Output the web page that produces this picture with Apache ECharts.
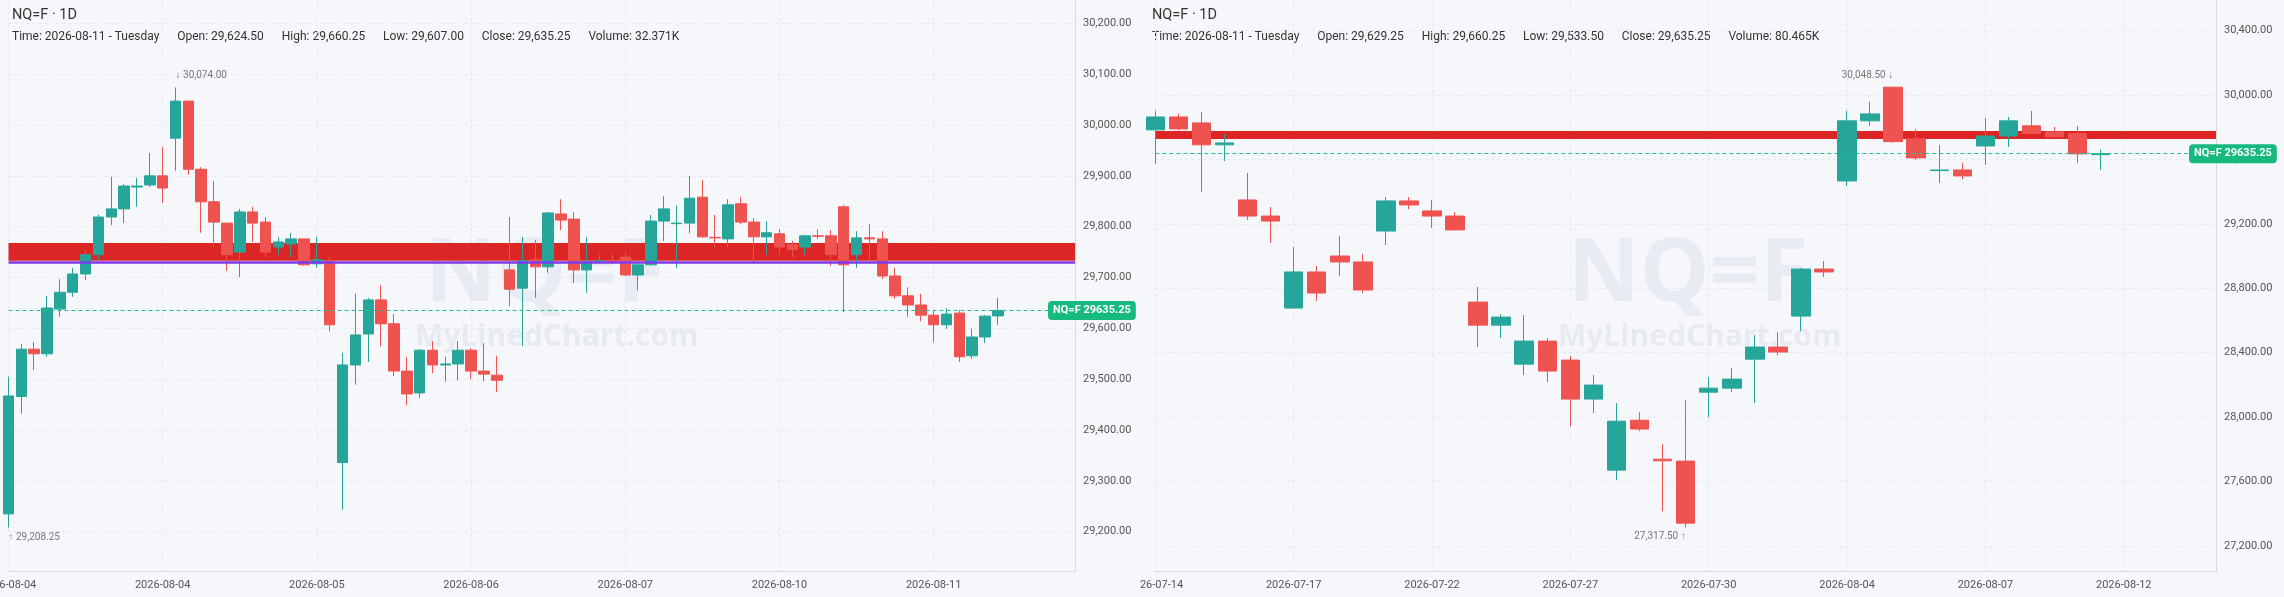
<!DOCTYPE html>
<html><head><meta charset="utf-8">
<script src="https://cdn.jsdelivr.net/npm/echarts@6/dist/echarts.min.js"></script>
<style>
html,body{margin:0;padding:0;background:#f5f7fb;overflow:hidden}
#l{position:absolute;left:0;top:0;width:1140px;height:597px}
#r{position:absolute;left:1140px;top:0;width:1144px;height:597px}
</style></head><body>
<div id="l"></div><div id="r"></div>
<script>
// ---- data ----
const symbol = 'NQ=F';
const interval = '1D';
const leftDays = ['2026-08-04','2026-08-04','2026-08-05','2026-08-06','2026-08-07','2026-08-10','2026-08-11','2026-08-11'];
const rightDays = ['2026-07-14','2026-07-17','2026-07-22','2026-07-27','2026-07-30','2026-08-04','2026-08-07','2026-08-12'];
// [open, close, low, high]
const leftOHLC = [
[29235,29467,29208.25,29505],[29466,29559,29432,29569],[29559,29550,29518,29573],[29550,29640,29544,29664],
[29638,29671,29623,29697],[29671,29707,29662,29719],[29707,29745,29695,29752],[29745,29819,29735,29824],
[29819,29835,29803,29898],[29835,29880,29807,29884],[29878,29880,29839,29896],[29882,29900,29878,29945],
[29900,29876,29847,29957],[29974,30047,29910,30074],[30047,29913,29902,30047],[29913,29849,29788,29917],
[29849,29809,29760,29890],[29807,29745,29713,29807],[29750,29829,29701,29835],[29829,29807,29770,29839],
[29809,29750,29740,29819],[29760,29770,29745,29780],[29766,29776,29740,29788],[29776,29725,29723,29776],
[29727,29735,29719,29780],[29732,29607,29594,29740],[29336,29528,29243,29552],[29528,29587,29489,29668],
[29589,29656,29534,29660],[29656,29609,29565,29685],[29609,29516,29506,29628],[29516,29471,29449,29544],
[29473,29557,29463,29559],[29557,29528,29512,29575],[29528,29530,29495,29544],[29530,29557,29498,29575],
[29557,29516,29500,29561],[29516,29510,29496,29571],[29508,29498,29475,29546],[29715,29677,29644,29819],
[29679,29733,29565,29780],[29735,29721,29660,29774],[29721,29827,29709,29829],[29825,29813,29793,29854],
[29815,29715,29689,29829],[29715,29731,29670,29780],[29731,29733,29727,29745],[29733,29730,29727,29745],
[29740,29705,29703,29750],[29705,29725,29675,29729],[29725,29811,29723,29823],[29811,29835,29772,29860],
[29806,29807,29719,29841],[29807,29856,29787,29900],[29858,29780,29778,29892],[29779,29778,29760,29823],
[29776,29843,29760,29854],[29845,29809,29805,29858],[29809,29780,29729,29817],[29780,29788,29745,29811],
[29786,29760,29745,29795],[29765,29755,29740,29772],[29760,29782,29745,29784],[29782,29781,29776,29795],
[29782,29745,29723,29793],[29839,29725,29632,29843],[29745,29778,29719,29791],[29778,29776,29729,29805],
[29776,29703,29697,29791],[29703,29664,29658,29719],[29664,29646,29622,29681],[29646,29626,29614,29668],
[29626,29607,29573,29636],[29607,29628,29599,29640],[29630,29544,29534,29636],[29546,29583,29540,29599],
[29583,29624,29571,29626],[29624.5,29635.25,29607,29660.25]
];
const rightOHLC = [
[29783,29863,29571,29901],[29863,29789,29780,29882],[29826,29690,29398,29894],[29690,29702,29590,29757],
[29348,29248,29224,29516],[29248,29217,29081,29304],[28677,28901,28671,29056],[28901,28770,28721,28938],
[29000,28963,28876,29124],[28963,28789,28770,29012],[29155,29342,29068,29366],[29342,29317,29292,29366],
[29280,29248,29174,29348],[29248,29162,29160,29273],[28714,28571,28435,28808],[28571,28621,28491,28640],
[28329,28472,28261,28634],[28472,28286,28217,28491],[28354,28112,27944,28379],[28112,28199,28025,28261],
[27671,27975,27609,28087],[27981,27926,27913,28031],[27739,27729,27416,27832],[27727,27342,27317.5,28106],
[28155,28180,28000,28249],[28180,28236,28155,28305],[28360,28435,28087,28509],[28435,28404,28385,28528],
[28627,28919,28534,28925],[28919,28901,28870,28969],[29466,29839,29435,29901],[29839,29882,29807,29957],
[30048,29710,29702,30048.5],[29727,29609,29596,29789],[29530,29534,29453,29689],[29534,29497,29478,29578],
[29683,29745,29565,29857],[29745,29839,29677,29863],[29808,29760,29760,29900],[29770,29740,29730,29801],
[29760,29634,29578,29807],[29629.25,29635.25,29533.5,29660.25]
];
const leftTicks = [29200,29300,29400,29500,29600,29700,29800,29900,30000,30100,30200];
const rightTicks = [27200,27600,28000,28400,28800,29200,29600,30000,30400];
const leftBand = [29733,29768];
const leftBandEdge = 29731;
const rightBand = [29727,29776];
const leftInfo = {time:'2026-08-11 - Tuesday',open:'29,624.50',high:'29,660.25',low:'29,607.00',close:'29,635.25',volume:'32.371K'};
const rightInfo = {time:'2026-08-11 - Tuesday',open:'29,629.25',high:'29,660.25',low:'29,533.50',close:'29,635.25',volume:'80.465K'};

const UP='#26a69a', DOWN='#ef5350', FONT='Roboto, "Noto Sans", sans-serif';
const fmt = v => Number(v).toLocaleString('en-US',{minimumFractionDigits:2,maximumFractionDigits:2});

function cats(days, per, n){ const out=[]; for(let i=0;i<n;i++){ out.push(days[Math.floor(i/per)]+'#'+i);} return out; }

function build(o){
  const data=o.ohlc, last=data[data.length-1][1];
  const categories=cats(o.days,o.per,o.n);
  const info=o.info;
  const hdr='Time: '+info.time+'      Open: '+info.open+'      High: '+info.high+'      Low: '+info.low+'      Close: '+info.close+'      Volume: '+info.volume;
  const markLineData=[{yAxis:last, lineStyle:{color:'#1fc08a',type:[4,3],width:1.2},
     label:{show:true,position:'end',distance:o.pillDist,formatter:symbol+' '+last,color:'#fff',fontWeight:'bold',fontSize:11,fontFamily:FONT,
     backgroundColor:'#16b97e',padding:[4,5],borderRadius:4}}];
  const bandSeries={type:'line',data:[],z:10,silent:true,
     markArea:{silent:true,itemStyle:{color:'#dc2626',opacity:1},data:[[{yAxis:o.band[0]},{yAxis:o.band[1]}]]}};
  if(o.bandEdge){ bandSeries.markLine={silent:true,symbol:'none',label:{show:false},lineStyle:{color:'#7c3aed',width:2.5,type:'solid'},data:[{yAxis:o.bandEdge}]}; }
  return {
    backgroundColor:'#f5f7fb', animation:false,
    textStyle:{fontFamily:FONT},
    grid:{left:o.gl,width:o.gw,top:0,height:571,containLabel:false,outerBoundsMode:'none'},
    graphic:[
      {type:'text',left:12,top:8,style:{text:symbol+' · '+interval,fontSize:14.5,fill:'#333',fontFamily:FONT}},
      {type:'text',left:12,top:31,style:{text:hdr,fontSize:12,fill:'#333',fontFamily:FONT}},
      {type:'text',left:o.wx-115,top:232,style:{text:symbol,fontSize:88,fontWeight:'bold',fill:'rgba(190,196,212,0.22)',fontFamily:'"Open Sans",sans-serif'},z:0},
      {type:'text',left:o.wx-125,top:322,style:{text:'MyLinedChart.com',fontSize:30,fontWeight:'bold',fill:'rgba(190,196,212,0.25)',fontFamily:'"Open Sans",sans-serif'},z:0}
    ],
    xAxis:{type:'category',data:categories,boundaryGap:false,
      axisLine:{lineStyle:{color:'#d5d8e0'}},axisTick:{show:false},
      axisLabel:{interval:o.per-1,color:'#555',fontSize:11,margin:9,hideOverlap:false,formatter:v=>v.split('#')[0]},
      splitLine:{show:true,interval:o.per-1,lineStyle:{color:'#e4e7ee',type:[3,3]}}},
    yAxis:{type:'value',position:'right',min:o.min,max:o.max,scale:true,
      axisLine:{show:true,lineStyle:{color:'#d5d8e0'}},axisTick:{show:false,customValues:o.ticks},
      axisLabel:{customValues:o.ticks,color:'#555',fontSize:11,margin:8,formatter:v=>fmt(v)},
      splitLine:{show:true,lineStyle:{color:'#e4e7ee',type:[3,3]}}},
    series:[{type:'candlestick',data:data,barWidth:o.bw,z:3,
      itemStyle:{color:UP,color0:DOWN,borderColor:UP,borderColor0:DOWN,borderWidth:1},
      markPoint:{symbol:'circle',symbolSize:1,itemStyle:{color:'rgba(0,0,0,0)'},
        label:{color:'#777',fontSize:10,fontFamily:FONT},
        data:[
          {type:'max',valueDim:'highest',label:{position:'top',distance:6,align:o.maxAlign,formatter:p=>o.maxAlign==='left'?'↓ '+fmt(p.value):fmt(p.value)+' ↓'}},
          {type:'min',valueDim:'lowest',label:{position:'bottom',distance:4,align:o.minAlign,formatter:p=>o.minAlign==='left'?'↑ '+fmt(p.value):fmt(p.value)+' ↑'}}
        ]},
      markLine:{silent:true,symbol:'none',data:markLineData}
    }, bandSeries]
  };
}

const lc=echarts.init(document.getElementById('l'));
lc.setOption(build({ohlc:leftOHLC,days:leftDays,per:12,n:84,info:leftInfo,gl:8.5,gw:1066.5,bw:11,
  min:29122.7,max:30245.9,ticks:leftTicks,band:leftBand,bandEdge:leftBandEdge,wx:540,pillDist:-27,maxAlign:'left',minAlign:'left'}));
const rc=echarts.init(document.getElementById('r'));
rc.setOption(build({ohlc:rightOHLC,days:rightDays,per:6,n:47,info:rightInfo,gl:15.3,gw:1060.7,bw:19,
  min:27045,max:30589,ticks:rightTicks,band:rightBand,bandEdge:null,wx:543,pillDist:-27,maxAlign:'right',minAlign:'right'}));
</script></body></html>
